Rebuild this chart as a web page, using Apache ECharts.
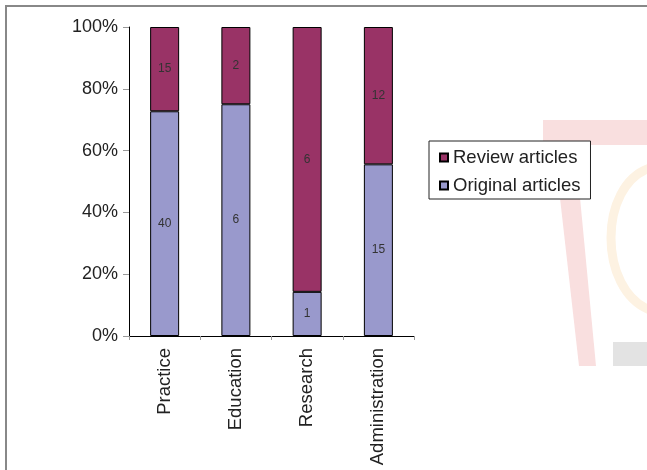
<!DOCTYPE html>
<html>
<head>
<meta charset="utf-8">
<script src="https://cdn.jsdelivr.net/npm/echarts@6/dist/echarts.min.js"></script>
<style>html,body{margin:0;padding:0;background:#fff}#c{width:647px;height:470px}</style>
</head>
<body>
<div id="c"></div>
<script>
var categories = ['Practice', 'Education', 'Research', 'Administration'];
var originalCounts = [40, 6, 1, 15];
var reviewCounts = [15, 2, 6, 12];
var yTicks = [0, 20, 40, 60, 80, 100];

var FONT = 'Liberation Sans, Arial, sans-serif';
function pct(arr, i) { return arr[i] / (originalCounts[i] + reviewCounts[i]) * 100; }
var origPct = categories.map(function (c, i) { return { value: pct(originalCounts, i), count: originalCounts[i] }; });
var revPct = categories.map(function (c, i) { return { value: pct(reviewCounts, i), count: reviewCounts[i] }; });

var chart = echarts.init(document.getElementById('c'));
var labelCfg = {
  show: true, position: 'inside', fontSize: 12, color: '#333', fontFamily: FONT,
  formatter: function (p) { return p.data.count; }
};
chart.setOption({
  animation: false,
  backgroundColor: '#fff',
  graphic: [
    { type: 'rect', z: -10, shape: { x: 543, y: 120, width: 110, height: 25 }, style: { fill: '#f9dfdf' } },
    { type: 'polygon', z: -10, shape: { points: [[554, 145], [575, 145], [596, 366], [579, 366]] }, style: { fill: '#f9dfdf' } },
    { type: 'bezierCurve', z: -10, shape: { x1: 650, y1: 168, cpx1: 598, cpy1: 185, cpx2: 598, cpy2: 290, x2: 650, y2: 310 }, style: { fill: 'none', stroke: '#fdf2e2', lineWidth: 9 } },
    { type: 'rect', z: -10, shape: { x: 613, y: 342, width: 40, height: 24 }, style: { fill: '#e3e3e3' } },
    { type: 'polyline', z: 10, shape: { points: [[6, 470], [6, 6], [647, 6]] }, style: { stroke: '#888', lineWidth: 2, fill: 'none' } }
  ],
  grid: { left: 129, top: 27, width: 285, height: 309, containLabel: false },
  legend: {
    orient: 'vertical', left: 429, top: 141,
    data: ['Review articles', 'Original articles'],
    itemWidth: 8, itemHeight: 8, itemGap: 9, icon: 'rect',
    borderColor: '#222', borderWidth: 1, padding: [7, 10, 4, 10],
    backgroundColor: '#fff',
    textStyle: { fontSize: 18.5, color: '#222', fontFamily: FONT }
  },
  xAxis: {
    type: 'category', data: categories, boundaryGap: true,
    axisLine: { lineStyle: { color: '#000', width: 1 } },
    axisTick: { show: true, length: 4, lineStyle: { color: '#999' } },
    axisLabel: { rotate: 90, fontSize: 18.5, color: '#222', fontFamily: FONT, margin: 12 }
  },
  yAxis: {
    type: 'value', min: 0, max: 100, interval: 20,
    splitLine: { show: false },
    axisLine: { show: true, lineStyle: { color: '#000', width: 1 } },
    axisTick: { show: true, length: 6, lineStyle: { color: '#999' } },
    axisLabel: { fontSize: 18, color: '#222', fontFamily: FONT, margin: 11, formatter: '{value}%' }
  },
  series: [
    { name: 'Original articles', type: 'bar', stack: 'a', barWidth: 29, data: origPct,
      itemStyle: { color: '#9999cc', borderColor: '#000', borderWidth: 1 }, label: labelCfg },
    { name: 'Review articles', type: 'bar', stack: 'a', barWidth: 29, data: revPct,
      itemStyle: { color: '#993366', borderColor: '#000', borderWidth: 1 }, label: labelCfg }
  ]
});
</script>
</body>
</html>
